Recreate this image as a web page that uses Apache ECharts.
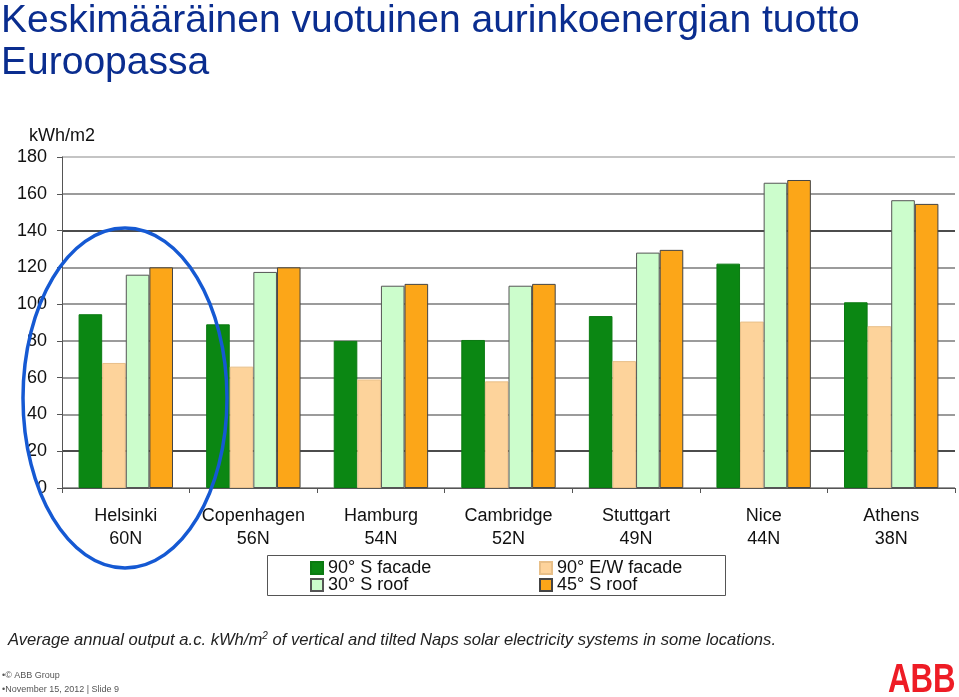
<!DOCTYPE html>
<html>
<head>
<meta charset="utf-8">
<script src="https://cdn.jsdelivr.net/npm/echarts@6/dist/echarts.min.js"></script>
<style>
  html, body { margin: 0; padding: 0; background: #fff; }
  #chart { width: 959px; height: 697px; }
</style>
</head>
<body>
<div id="chart"></div>
<script>
// data (kWh/m2 per year)
const cities = ['Helsinki', 'Copenhagen', 'Hamburg', 'Cambridge', 'Stuttgart', 'Nice', 'Athens'];
const latitudes = ['60N', '56N', '54N', '52N', '49N', '44N', '38N'];
const sFacade90 = [94.5, 89, 80, 80.5, 93.5, 122, 101];
const ewFacade90 = [68, 66, 59, 58, 69, 90.5, 88];
const sRoof30 = [116, 117.5, 110, 110, 128, 166, 156.5];
const sRoof45 = [120, 120, 111, 111, 129.5, 167.5, 154.5];
const seriesNames = ['90° S facade', '90° E/W facade', '30° S roof', '45° S roof'];

const FONT = 'Arial, "Liberation Sans", sans-serif';

const chart = echarts.init(document.getElementById('chart'));

function legendAt(name, left, top) {
  return {
    data: [{ name: name, icon: 'rect' }],
    left: left,
    top: top,
    padding: 0,
    itemWidth: 12,
    itemHeight: 12,
    selectedMode: false,
    textStyle: { fontFamily: FONT, fontSize: 18, color: '#111', padding: [0, 0, 0, 0] }
  };
}

function barSeries(name, data, color, border) {
  return {
    name: name,
    type: 'bar',
    data: data,
    barGap: '0%',
    barCategoryGap: '26%',
    itemStyle: {
      color: color,
      borderColor: border,
      borderWidth: 1
    }
  };
}

const option = {
  backgroundColor: '#fff',
  animation: false,
  title: {
    text: 'Keskimääräinen vuotuinen aurinkoenergian tuotto\nEuroopassa',
    left: 1,
    top: 0,
    padding: 0,
    textStyle: {
      fontFamily: FONT,
      fontSize: 39,
      fontWeight: 'normal',
      color: '#0a2d8f',
      lineHeight: 42
    }
  },
  grid: { left: 62, right: 4, top: 157, bottom: 209 },
  legend: [
    legendAt(seriesNames[0], 310, 559),
    legendAt(seriesNames[1], 539, 559),
    legendAt(seriesNames[2], 310, 576),
    legendAt(seriesNames[3], 539, 576)
  ],
  xAxis: {
    type: 'category',
    data: cities,
    axisLine: { lineStyle: { color: '#555', width: 1 } },
    axisTick: { show: true, length: 5, lineStyle: { color: '#555' } },
    axisLabel: {
      interval: 0,
      margin: 17,
      fontFamily: FONT,
      fontSize: 18,
      lineHeight: 23,
      color: '#111',
      formatter: function (v, i) { return v + '\n' + latitudes[i]; }
    }
  },
  yAxis: {
    type: 'value',
    min: 0,
    max: 180,
    interval: 20,
    name: 'kWh/m2',
    nameLocation: 'end',
    nameGap: 12,
    nameTextStyle: { fontFamily: FONT, fontSize: 18, color: '#111' },
    axisLine: { show: true, lineStyle: { color: '#555', width: 1 } },
    axisTick: { show: true, length: 5, lineStyle: { color: '#555' } },
    axisLabel: { margin: 15, fontFamily: FONT, fontSize: 18, color: '#111' },
    splitLine: {
      show: true,
      lineStyle: {
        width: 1.5,
        color: ['#777', '#111', '#7a7a7a', '#7a7a7a', '#7a7a7a', '#7a7a7a', '#7a7a7a', '#111', '#7a7a7a', '#b0b0b0']
      }
    }
  },
  series: [
    barSeries(seriesNames[0], sFacade90, '#0b8713', '#0b7a12'),
    barSeries(seriesNames[1], ewFacade90, '#fdd39b', '#e8bf88'),
    barSeries(seriesNames[2], sRoof30, '#ccfdcc', '#555'),
    barSeries(seriesNames[3], sRoof45, '#fca618', '#444')
  ],
  graphic: [
    // legend frame
    {
      type: 'rect',
      shape: { x: 267.5, y: 555.5, width: 458, height: 40 },
      style: { fill: 'none', stroke: '#555', lineWidth: 1 },
      z: 1
    },
    // hand-drawn highlight round Helsinki
    {
      type: 'ellipse',
      shape: { cx: 125, cy: 398, rx: 102, ry: 170 },
      style: { fill: 'none', stroke: '#1559d3', lineWidth: 3.5 },
      z: 100
    },
    {
      type: 'text',
      left: 8,
      top: 631,
      style: {
        text: '{t|Average annual output a.c. kWh/m}{s|2}{t| of vertical and tilted Naps solar electricity systems in some locations.}',
        rich: {
          t: { fontFamily: FONT, fontSize: 16.6, fontStyle: 'italic', fill: '#222' },
          s: { fontFamily: FONT, fontSize: 10, fontStyle: 'italic', fill: '#222', verticalAlign: 'top', padding: [0, 0, 8, 0] }
        }
      }
    },
    {
      type: 'text',
      left: 2,
      top: 671,
      style: {
        text: '•© ABB Group',
        font: '9px "Liberation Sans Narrow", Arial, sans-serif',
        fill: '#555'
      }
    },
    {
      type: 'text',
      left: 2,
      top: 685,
      style: {
        text: '•November 15, 2012 | Slide 9',
        font: '9px "Liberation Sans Narrow", Arial, sans-serif',
        fill: '#555'
      }
    },
    {
      type: 'text',
      x: 888,
      y: 661,
      scaleX: 0.78,
      style: {
        text: 'ABB',
        font: 'bold 40px Arial, "Liberation Sans", sans-serif',
        fill: '#ee1c25'
      }
    }
  ]
};

chart.setOption(option);
window.addEventListener('resize', function () {
  chart.resize();
});
</script>
</body>
</html>
